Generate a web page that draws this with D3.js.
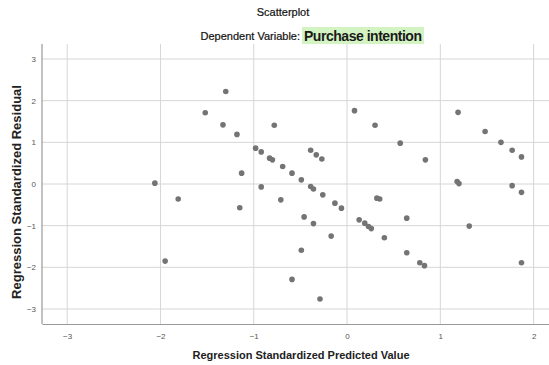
<!DOCTYPE html>
<html>
<head>
<meta charset="utf-8">
<script src="https://cdn.jsdelivr.net/npm/d3@7"></script>
<style>
  body { margin: 0; background: #fff; }
  text { font-family: "Liberation Sans", Arial, sans-serif; }
</style>
</head>
<body>
<div id="chart"></div>
<script>
// predicted value (x) and residual (y)
const predicted = [-2.06, -1.95, -1.81, -1.52, -1.33, -1.30, -1.18, -1.13, -1.15, -0.98,
  -0.92, -0.92, -0.83, -0.80, -0.78, -0.69, -0.71, -0.59, -0.59, -0.49,
  -0.49, -0.46, -0.39, -0.39, -0.36, -0.36, -0.33, -0.29, -0.27, -0.26,
  -0.17, -0.13, -0.06, 0.08, 0.13, 0.19, 0.23, 0.26, 0.30, 0.32,
  0.35, 0.40, 0.57, 0.64, 0.64, 0.78, 0.83, 0.84, 1.18, 1.20,
  1.19, 1.31, 1.48, 1.65, 1.77, 1.77, 1.87, 1.87, 1.87];
const residual = [0.02, -1.85, -0.36, 1.71, 1.42, 2.22, 1.19, 0.26, -0.57, 0.86,
  0.77, -0.07, 0.62, 0.58, 1.41, 0.42, -0.38, 0.26, -2.29, 0.10,
  -1.59, -0.79, 0.81, -0.06, -0.12, -0.95, 0.70, -2.76, 0.60, -0.26,
  -1.25, -0.46, -0.58, 1.76, -0.86, -0.94, -1.02, -1.07, 1.41, -0.34,
  -0.36, -1.29, 0.98, -0.82, -1.65, -1.89, -1.96, 0.58, 0.06, 0.01,
  1.72, -1.01, 1.26, 1.00, 0.81, -0.04, 0.65, -0.20, -1.89];
const xTicks = [-3, -2, -1, 0, 1, 2];
const yTicks = [-3, -2, -1, 0, 1, 2, 3];

const width = 549, height = 365;
const margin = { top: 44, right: 0, bottom: 41, left: 42 };

const svg = d3.select("#chart")
  .append("svg")
  .attr("width", width)
  .attr("height", height);

const x = d3.scaleLinear()
  .domain([-3.27, 2.165])
  .range([margin.left, width - margin.right]);
const y = d3.scaleLinear()
  .domain([-3.36, 3.36])
  .range([height - margin.bottom, margin.top]);

// gridlines
svg.append("g")
  .selectAll("line")
  .data(xTicks)
  .join("line")
  .attr("x1", d => x(d)).attr("x2", d => x(d))
  .attr("y1", margin.top).attr("y2", height - margin.bottom)
  .attr("stroke", "#d6d6d6");
svg.append("g")
  .selectAll("line")
  .data(yTicks)
  .join("line")
  .attr("x1", margin.left).attr("x2", width - margin.right)
  .attr("y1", d => y(d)).attr("y2", d => y(d))
  .attr("stroke", "#d6d6d6");

// axes
const xAxis = svg.append("g")
  .attr("transform", "translate(0," + (height - margin.bottom) + ")")
  .call(d3.axisBottom(x).tickValues(xTicks).tickSize(0).tickPadding(9).tickFormat(d3.format("d")));
const yAxis = svg.append("g")
  .attr("transform", "translate(" + margin.left + ",0)")
  .call(d3.axisLeft(y).tickValues(yTicks).tickSize(0).tickPadding(6).tickFormat(d3.format("d")));
[xAxis, yAxis].forEach(g => {
  g.select(".domain").attr("stroke", "#999").attr("stroke-width", 1.2);
  g.selectAll("text").attr("fill", "#555").style("font-size", "8px")
    .style("font-family", "'Liberation Sans', Arial, sans-serif");
});
yAxis.select(".domain").attr("d", "M0," + margin.top + "V" + (height - margin.bottom));

// points
svg.append("g")
  .selectAll("circle")
  .data(predicted)
  .join("circle")
  .attr("cx", d => x(d))
  .attr("cy", (d, i) => y(residual[i]))
  .attr("r", 2.8)
  .attr("fill", "#747474");

// titles
svg.append("text")
  .attr("x", 283).attr("y", 16)
  .attr("text-anchor", "middle")
  .style("font-size", "11px")
  .attr("fill", "#111")
  .attr("stroke", "#111").attr("stroke-width", 0.2)
  .text("Scatterplot");

svg.append("text")
  .attr("x", 300).attr("y", 40)
  .attr("text-anchor", "end")
  .style("font-size", "11px")
  .attr("fill", "#111")
  .attr("stroke", "#111").attr("stroke-width", 0.2)
  .text("Dependent Variable:");

svg.append("rect")
  .attr("x", 302).attr("y", 27)
  .attr("width", 122).attr("height", 17)
  .attr("fill", "#d3f4c2");
svg.append("text")
  .attr("x", 304).attr("y", 41)
  .style("font-size", "14px")
  .style("font-weight", "bold")
  .attr("fill", "#1a1a1a")
  .attr("textLength", 118)
  .text("Purchase intention");

svg.append("text")
  .attr("x", 301).attr("y", 359)
  .attr("text-anchor", "middle")
  .style("font-size", "11px")
  .style("font-weight", "bold")
  .attr("fill", "#222")
  .text("Regression Standardized Predicted Value");

svg.append("text")
  .attr("transform", "translate(21,192) rotate(-90)")
  .attr("text-anchor", "middle")
  .style("font-size", "13px")
  .style("font-weight", "bold")
  .attr("fill", "#222")
  .text("Regression Standardized Residual");
</script>
</body>
</html>
